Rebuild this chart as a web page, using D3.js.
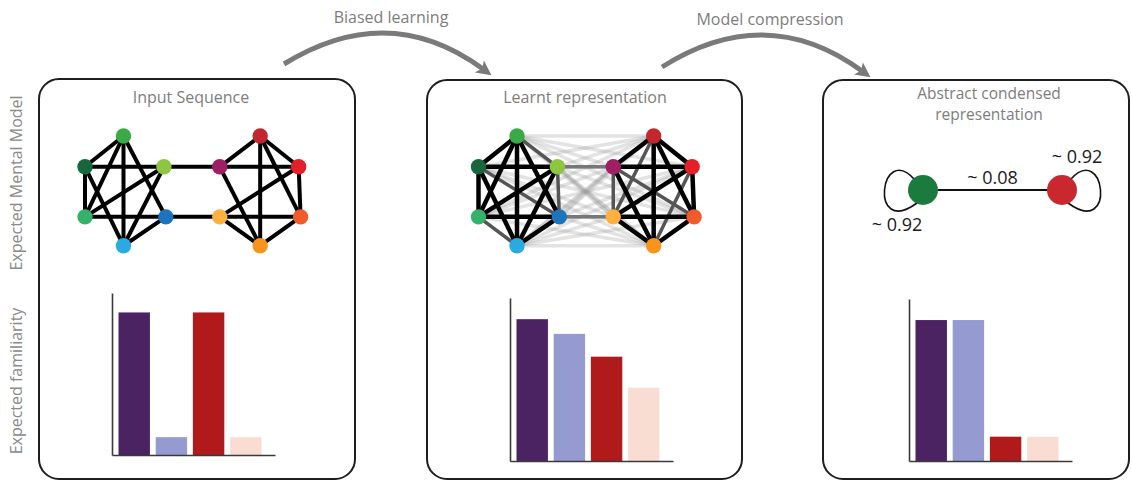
<!DOCTYPE html>
<html><head><meta charset="utf-8">
<script src="https://cdn.jsdelivr.net/npm/d3@7"></script>
<style>html,body{margin:0;padding:0;background:#fff;overflow:hidden}</style>
</head><body>
<svg id="c" width="1132" height="483"></svg>
<script>
// ---------- DATA ----------
const barCategories = ["cat1", "cat2", "cat3", "cat4"];
const inputFamiliarity = [0.88, 0.11, 0.88, 0.11];
const learntFamiliarity = [0.87, 0.78, 0.64, 0.45];
const abstractFamiliarity = [0.87, 0.87, 0.15, 0.15];
const panelTitles = [["Input Sequence"], ["Learnt representation"], ["Abstract condensed", "representation"]];
const arrowLabels = ["Biased learning", "Model compression"];
const rowLabels = ["Expected Mental Model", "Expected familiarity"];
const nodeIds = ["A","B","C","D","E","F","G","H","I","J","K","L"];
const nodeCommunity = [0,0,0,0,0,0,1,1,1,1,1,1];
const inputEdges = [["A","B"],["A","D"],["A","E"],["A","F"],["B","C"],["B","D"],["B","F"],["C","D"],["C","F"],["D","E"],["E","F"],
  ["C","H"],["E","J"],
  ["G","H"],["G","I"],["G","K"],["G","L"],["H","I"],["H","L"],["I","J"],["I","K"],["J","K"],["J","L"],["K","L"]];
const abstractStates = ["community1", "community2"];
const abstractTransitions = [[0.92, 0.08], [0.08, 0.92]];

// ---------- STYLE / LAYOUT ----------
const barColors = ["#4b2262", "#959bd0", "#b11a1a", "#f9ddd3"];
const nodeColors = {A:"#3aaa48",B:"#17673a",C:"#8dc63f",D:"#34b26c",E:"#1c75bc",F:"#29aae1",
  G:"#c1272d",H:"#9e1f63",I:"#e3202a",J:"#fbb040",K:"#f15a29",L:"#f7941d"};
const nodeLayout = {A:[1,0],B:[0,0.8],C:[2.05,0.8],D:[0,2.1],E:[2.1,2.1],F:[1,2.85],
  G:[4.55,0],H:[3.5,0.8],I:[5.55,0.8],J:[3.5,2.1],K:[5.6,2.1],L:[4.55,2.85]};
const stateColors = ["#1b7a3e", "#c8282e"];
const FONT = "'Open Sans', sans-serif";
const GREY = "#7d7d7d";

const svg = d3.select("#c");
svg.append("rect").attr("width",1132).attr("height",483).attr("fill","#fff");

// panels
const panels = [
  {x:39, y:79, w:316, h:400, tx:191},
  {x:427, y:80, w:315, h:399, tx:585},
  {x:823, y:80, w:306, h:399, tx:989}
];
svg.selectAll("rect.panel").data(panels).join("rect").attr("class","panel")
  .attr("x",d=>d.x).attr("y",d=>d.y).attr("width",d=>d.w).attr("height",d=>d.h)
  .attr("rx",20).attr("ry",20).attr("fill","none").attr("stroke","#1e1e1e").attr("stroke-width",2);

panels.forEach((p,i)=>{
  panelTitles[i].forEach((line,j)=>{
    svg.append("text").attr("x",p.tx).attr("y",(i===2?99:103)+j*21).attr("text-anchor","middle")
      .attr("font-family",FONT).attr("font-size",i===2?15.5:16).attr("fill",GREY).text(line);
  });
});

// row labels
[[22,183],[22,381]].forEach((pos,i)=>{
  svg.append("text").attr("transform",`translate(${pos[0]},${pos[1]}) rotate(-90)`)
    .attr("text-anchor","middle").attr("font-family",FONT).attr("font-size",16)
    .attr("fill","#8a8a8a").text(rowLabels[i]);
});

// arrows
const defs = svg.append("defs");
defs.append("marker").attr("id","ah").attr("viewBox","0 0 10 10")
  .attr("refX",3).attr("refY",5).attr("markerWidth",15).attr("markerHeight",15)
  .attr("markerUnits","userSpaceOnUse").attr("orient","auto")
  .append("path").attr("d","M0,0 L10,5 L0,10 L2.5,5 Z").attr("fill","#7a7a7a");

const arrows = [
  {s:[284,64], m:[386,33], e:[483,69], lx:391, ly:23},
  {s:[662,67], m:[764,35], e:[862,71], lx:770, ly:25}
];
arrows.forEach((a,i)=>{
  const cx = (4*a.m[0]-a.s[0]-a.e[0])/2, cy = (4*a.m[1]-a.s[1]-a.e[1])/2;
  const p = d3.path(); p.moveTo(a.s[0],a.s[1]); p.quadraticCurveTo(cx,cy,a.e[0],a.e[1]);
  svg.append("path").attr("d",p.toString()).attr("fill","none").attr("stroke","#7a7a7a")
    .attr("stroke-width",5).attr("marker-end","url(#ah)");
  svg.append("text").attr("x",a.lx).attr("y",a.ly).attr("text-anchor","middle")
    .attr("font-family",FONT).attr("font-size",16).attr("fill",GREY).text(arrowLabels[i]);
});

// bar charts
const barCfg = [
  {vals:inputFamiliarity, ax:112, top:293, bottom:455, xEnd:275},
  {vals:learntFamiliarity, ax:510, top:298, bottom:461, xEnd:673},
  {vals:abstractFamiliarity, ax:909, top:299, bottom:461, xEnd:1072}
];
barCfg.forEach(cfg=>{
  const g = svg.append("g");
  const x = d3.scaleBand().domain(barCategories).range([cfg.ax+6.5, cfg.ax+6.5+143]).paddingInner(0.155).paddingOuter(0);
  const y = d3.scaleLinear().domain([0,1]).range([cfg.bottom, cfg.top]);
  g.selectAll("rect").data(cfg.vals).join("rect")
    .attr("x",(d,i)=>x(barCategories[i])).attr("width",x.bandwidth())
    .attr("y",d=>y(d)).attr("height",d=>y(0)-y(d))
    .attr("fill",(d,i)=>barColors[i]);
  g.append("g").attr("transform",`translate(${cfg.ax},0)`)
    .call(d3.axisLeft(y).tickValues([]).tickSizeOuter(0));
  const xl = d3.scaleLinear().domain([0,1]).range([cfg.ax, cfg.xEnd]);
  g.append("g").attr("transform",`translate(0,${cfg.bottom})`)
    .call(d3.axisBottom(xl).tickValues([]).tickSizeOuter(0));
  g.selectAll(".domain").attr("stroke","#3a3a3a").attr("stroke-width",1.6);
});

// networks
const edgeKey = (a,b)=> a<b ? a+b : b+a;
const inputSet = new Set(inputEdges.map(e=>edgeKey(e[0],e[1])));
const comm = Object.fromEntries(nodeIds.map((id,i)=>[id,nodeCommunity[i]]));

function drawNetwork(x0, mode){
  const g = svg.append("g");
  const gx = d3.scaleLinear().domain([0,1]).range([x0, x0+38.5]);
  const gy = d3.scaleLinear().domain([0,1]).range([136, 174.5]);
  const P = id => [gx(nodeLayout[id][0]), gy(nodeLayout[id][1])];
  let edges = [];
  if(mode==="input"){
    edges = inputEdges.map(e=>({a:e[0],b:e[1],c:"#000",w:4,o:1,z:2}));
  } else {
    for(let i=0;i<nodeIds.length;i++) for(let j=i+1;j<nodeIds.length;j++){
      const a=nodeIds[i], b=nodeIds[j];
      const inp = inputSet.has(edgeKey(a,b));
      const same = comm[a]===comm[b];
      if(same && inp) edges.push({a,b,c:"#000",w:4.5,o:1,z:2});
      else if(same) edges.push({a,b,c:"#555",w:3.5,o:1,z:1});
      else if(inp) edges.push({a,b,c:"#777",w:3.5,o:1,z:1});
      else edges.push({a,b,c:"#9a9a9a",w:3.5,o:0.28,z:0});
    }
    edges.sort((p,q)=>p.z-q.z);
  }
  g.selectAll("line").data(edges).join("line")
    .attr("x1",d=>P(d.a)[0]).attr("y1",d=>P(d.a)[1])
    .attr("x2",d=>P(d.b)[0]).attr("y2",d=>P(d.b)[1])
    .attr("stroke",d=>d.c).attr("stroke-width",d=>d.w).attr("stroke-opacity",d=>d.o);
  g.selectAll("circle").data(nodeIds).join("circle")
    .attr("cx",d=>P(d)[0]).attr("cy",d=>P(d)[1]).attr("r",7.7)
    .attr("fill",d=>nodeColors[d]);
}
drawNetwork(85, "input");
drawNetwork(478.5, "learnt");

// abstract representation
(function(){
  const g = svg.append("g");
  const sx = d3.scalePoint().domain(abstractStates).range([923, 1062]);
  const cy = 190, r = 15;
  const fmt = v => "~ " + d3.format(".2f")(v);
  const xa = sx(abstractStates[0]), xb = sx(abstractStates[1]);
  g.append("line").attr("x1",xa+r).attr("x2",xb-r).attr("y1",cy).attr("y2",cy)
    .attr("stroke","#111").attr("stroke-width",1.8);
  g.append("text").attr("x",(xa+xb)/2).attr("y",184).attr("text-anchor","middle")
    .attr("font-family",FONT).attr("font-size",18).attr("fill","#1a1a1a")
    .text(fmt(abstractTransitions[0][1]));
  abstractStates.forEach((s,i)=>{
    const cx = sx(s), dir = i===0 ? -1 : 1;
    const p = d3.path();
    p.moveTo(cx+dir*8, cy-10);
    p.bezierCurveTo(cx+dir*43, cy-50, cx+dir*55, cy+49, cx+dir*6, cy+13);
    g.append("path").attr("d",p.toString()).attr("fill","none").attr("stroke","#111").attr("stroke-width",1.6);
    g.append("circle").attr("cx",cx).attr("cy",cy).attr("r",r).attr("fill",stateColors[i]);
    g.append("text").attr("x", i===0 ? cx-26 : cx+15).attr("y", i===0 ? 231 : 163)
      .attr("text-anchor","middle").attr("font-family",FONT).attr("font-size",18).attr("fill","#1a1a1a")
      .text(fmt(abstractTransitions[i][i]));
  });
})();
</script>
</body></html>
